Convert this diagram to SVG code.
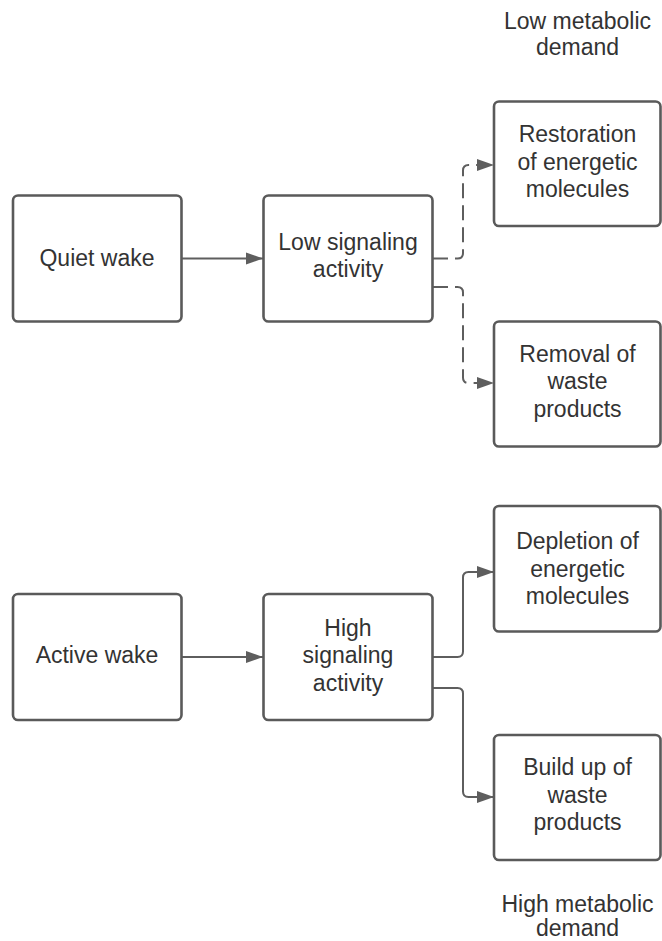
<svg xmlns="http://www.w3.org/2000/svg" width="662" height="941" viewBox="0 0 662 941">
<style>
.box{fill:#fff;stroke:#5a5a5a;stroke-width:2.6}
.t{font-family:"Liberation Sans",Arial,sans-serif;font-size:23px;fill:#333;text-anchor:middle}
.c{fill:none;stroke:#5e5e5e;stroke-width:2}
.d{stroke-dasharray:15 7}
</style>
<defs>
<marker id="ah" markerUnits="userSpaceOnUse" markerWidth="18" markerHeight="13" refX="17" refY="6.5" orient="auto">
<path d="M0,0.5 L17,6.5 L0,12.5 z" fill="#5e5e5e"/>
</marker>
</defs>
<rect width="662" height="941" fill="#fff"/>
<g id="connectors">
<path class="c" d="M181.5,258.5 H263" marker-end="url(#ah)"/>
<path class="c" d="M181.5,657 H263" marker-end="url(#ah)"/>
<path class="c d" d="M433,258.5 H457.5 Q463,258.5 463,253 V170.5 Q463,165 468.5,165 H494" marker-end="url(#ah)"/>
<path class="c d" d="M433,287 H457.5 Q463,287 463,292.5 V377.5 Q463,383 468.5,383 H494" marker-end="url(#ah)"/>
<path class="c" d="M433,657 H457.5 Q463,657 463,651.5 V577.5 Q463,572 468.5,572 H494" marker-end="url(#ah)"/>
<path class="c" d="M433,688 H457.5 Q463,688 463,693.5 V791.5 Q463,797 468.5,797 H494" marker-end="url(#ah)"/>
</g>
<g id="label-low">
<text class="t" x="577.5" y="28.5">Low metabolic</text>
<text class="t" x="577.5" y="55">demand</text>
</g>
<g id="quiet-wake">
<rect class="box" x="13" y="195.5" width="168.5" height="126" rx="5"/>
<text class="t" x="97" y="265.5">Quiet wake</text>
</g>
<g id="low-signaling">
<rect class="box" x="263.5" y="195.5" width="169" height="126" rx="5"/>
<text class="t" x="348" y="250">Low signaling</text>
<text class="t" x="348" y="277">activity</text>
</g>
<g id="restoration">
<rect class="box" x="494" y="101.5" width="166.5" height="124.5" rx="5"/>
<text class="t" x="577.5" y="142">Restoration</text>
<text class="t" x="577.5" y="169.5">of energetic</text>
<text class="t" x="577.5" y="197">molecules</text>
</g>
<g id="removal">
<rect class="box" x="494" y="321.5" width="166.5" height="125" rx="5"/>
<text class="t" x="577.5" y="361.5">Removal of</text>
<text class="t" x="577.5" y="389">waste</text>
<text class="t" x="577.5" y="416.5">products</text>
</g>
<g id="active-wake">
<rect class="box" x="13" y="594" width="168.5" height="126" rx="5"/>
<text class="t" x="97" y="663">Active wake</text>
</g>
<g id="high-signaling">
<rect class="box" x="263.5" y="594" width="169" height="126" rx="5"/>
<text class="t" x="348" y="635.5">High</text>
<text class="t" x="348" y="663">signaling</text>
<text class="t" x="348" y="690.5">activity</text>
</g>
<g id="depletion">
<rect class="box" x="494" y="506" width="166.5" height="125.5" rx="5"/>
<text class="t" x="577.5" y="549">Depletion of</text>
<text class="t" x="577.5" y="576.5">energetic</text>
<text class="t" x="577.5" y="604">molecules</text>
</g>
<g id="build-up">
<rect class="box" x="494" y="735" width="166.5" height="125" rx="5"/>
<text class="t" x="577.5" y="775">Build up of</text>
<text class="t" x="577.5" y="802.5">waste</text>
<text class="t" x="577.5" y="830">products</text>
</g>
<g id="label-high">
<text class="t" x="577.5" y="911.5">High metabolic</text>
<text class="t" x="577.5" y="936">demand</text>
</g>
</svg>
